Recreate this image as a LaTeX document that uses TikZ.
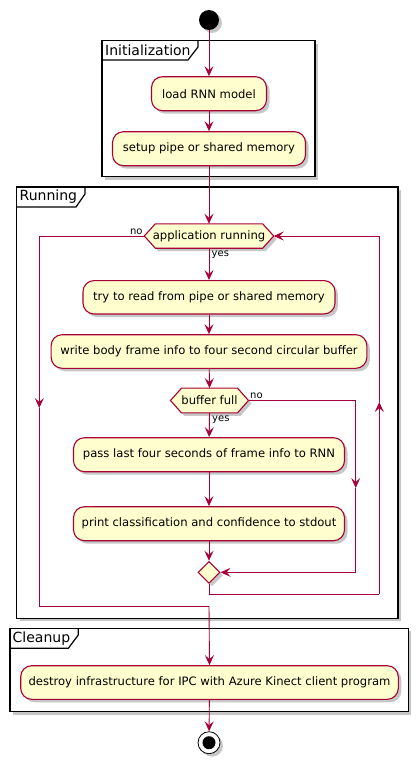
\documentclass[tikz,border=0pt]{standalone}
\usepackage{fontspec}
\setmainfont{DejaVu Sans}
\usetikzlibrary{arrows.meta,shapes.geometric,shadows,backgrounds}
\definecolor{pBorder}{HTML}{A80036}
\definecolor{pFill}{HTML}{FEFECE}
\begin{document}
\begin{tikzpicture}[x=1pt,y=-1pt,
  shad/.style={drop shadow={shadow xshift=3pt,shadow yshift=-3pt,opacity=0.22,fill=black}},
  actfont/.style={font=\fontsize{11.6}{13}\selectfont},
  act/.style={draw=pBorder, line width=1.1pt, fill=pFill, rounded corners=11pt, inner sep=0pt, actfont, shad},
  hexn/.style={inner sep=0pt, actfont},
  decision/.style={draw=pBorder, line width=1.1pt, fill=pFill, shad},
  frame/.style={draw=black, line width=1.4pt, fill=white, shad},
  frametab/.style={draw=black, line width=1.2pt},
  ftitle/.style={anchor=west, inner sep=0pt, font=\fontsize{14}{16}\selectfont},
  lbl/.style={inner sep=1.5pt, font=\fontsize{10}{12}\selectfont},
  line/.style={draw=pBorder, line width=0.9pt},
  conn/.style={line, -{Stealth[length=10pt,width=9pt,inset=4pt]}},
]
\useasboundingbox (0,0) rectangle (418,763);

% frames (on background layer, drawn first)
\begin{scope}[on background layer]
\draw[frame] (102,40.7) rectangle (315,176.7);
\draw[frametab] (102,60) -- (188,60) -- (198,47) -- (198,40.7);
\draw[frame] (16.7,187) rectangle (398,618.3);
\draw[frametab] (16.7,207) -- (76,207) -- (85,194) -- (85,187);
\draw[frame] (10,628.3) rectangle (408.3,711.7);
\draw[frametab] (10,648.3) -- (68.3,648.3) -- (78.3,635) -- (78.3,628.3);
\end{scope}
\node[ftitle] (tinit) at (105,50.5) {Initialization};
\node[ftitle] (trun) at (19.5,197) {Running};
\node[ftitle] (tcln) at (12.5,638.3) {Cleanup};

% nodes
\node[circle, fill=black, minimum size=20pt, inner sep=0pt, shad] (st) at (209,20) {};
\node[act, minimum width=115pt, minimum height=34pt] (load) at (209,93.7) {load RNN model};
\node[act, minimum width=193pt, minimum height=34pt] (setup) at (209,148.7) {setup pipe or shared memory};

\node[hexn, minimum width=129pt, minimum height=24pt] (ar) at (209,236) {application running};
\node[act, minimum width=252pt, minimum height=33.4pt] (read) at (209,297.3) {try to read from pipe or shared memory};
\node[act, minimum width=315.7pt, minimum height=33.6pt] (write) at (209,351.5) {write body frame info to four second circular buffer};
\node[hexn, minimum width=77.6pt, minimum height=24.4pt] (bf) at (209.5,400.5) {buffer full};
\node[act, minimum width=271pt, minimum height=34pt] (pass) at (209,454.7) {pass last four seconds of frame info to RNN};
\node[act, minimum width=271pt, minimum height=34pt] (print) at (209,523.7) {print classification and confidence to stdout};
\node[diamond, decision, minimum width=22pt, minimum height=22pt, inner sep=0pt] (mg) at (209,572.3) {};
\node[act, minimum width=377.6pt, minimum height=33.6pt] (ds) at (209.5,682.5) {destroy infrastructure for IPC with Azure Kinect client program};
\node[circle, draw=black, fill=white, line width=0.8pt, minimum size=22pt, inner sep=0pt, shad] (en) at (209,742.7) {};
\node[circle, fill=black, minimum size=13pt, inner sep=0pt] (en2) at (en) {};

% hexagons (background layer, above the frames)
\begin{scope}[on background layer]
\draw[decision] (ar.west) -- ([xshift=11pt]ar.north west) -- ([xshift=-11pt]ar.north east) -- (ar.east)
  -- ([xshift=-11pt]ar.south east) -- ([xshift=11pt]ar.south west) -- cycle;
\draw[decision] (bf.west) -- ([xshift=11pt]bf.north west) -- ([xshift=-11pt]bf.north east) -- (bf.east)
  -- ([xshift=-11pt]bf.south east) -- ([xshift=11pt]bf.south west) -- cycle;
\end{scope}

% helper coordinates
\coordinate (la) at (39.3,408);
\coordinate (lb) at (209,606);
\coordinate (ra) at (379.3,402);
\coordinate (rb) at (379.3,594);
\coordinate (na) at (355.7,488);

% connectors
\draw[conn] (st) -- (load);
\draw[conn] (load) -- (setup);
\draw[conn] (setup) -- (ar.north);
\draw[conn] (ar.south) -- (read);
\draw[conn] (read) -- (write);
\draw[conn] (write) -- (bf.north);
\draw[conn] (bf.south) -- (pass);
\draw[conn] (pass) -- (print);
\draw[conn] (print) -- (mg.north);
\draw[conn] (bf.east) -| (na);
\draw[conn] (na) |- (mg.east);
\draw[line] (mg.south) |- (rb);
\draw[conn] (rb) -- (ra);
\draw[conn] (ra) |- (ar.east);
\draw[conn] (ar.west) -| (la);
\draw[line] (la) |- (lb);
\draw[conn] (lb) -- (ds.north);
\draw[conn] (ds) -- (en);

% labels
\node[lbl, anchor=south east] (lno1) at (ar.west) {no};
\node[lbl, anchor=north west, xshift=1pt, yshift=-1pt] (lyes1) at (ar.south) {yes};
\node[lbl, anchor=south west] (lno2) at (bf.east) {no};
\node[lbl, anchor=north west, xshift=1pt, yshift=-1pt] (lyes2) at (bf.south) {yes};
\end{tikzpicture}
\end{document}
